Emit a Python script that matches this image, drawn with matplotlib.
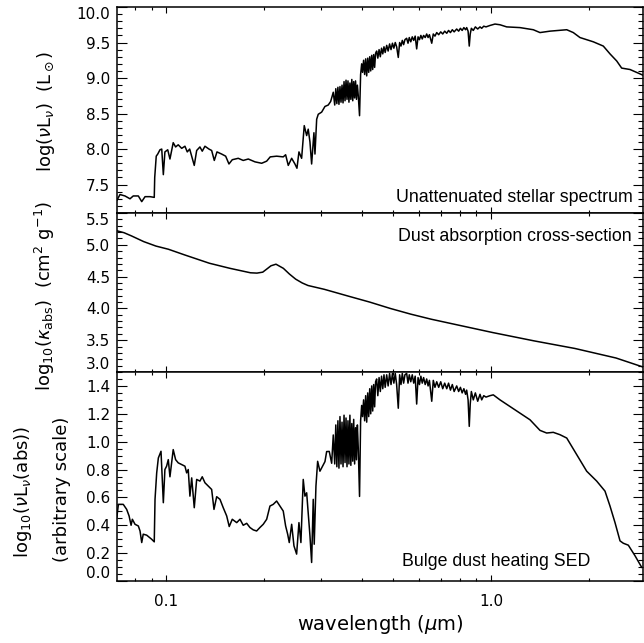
import matplotlib
matplotlib.use("Agg")
import matplotlib.pyplot as plt
from matplotlib.ticker import FixedLocator, MultipleLocator, NullFormatter, FixedFormatter, FormatStrFormatter

plt.rcParams['font.family'] = ['DejaVu Sans']
plt.rcParams['mathtext.fontset'] = 'dejavusans'

# ---------------- data ----------------
# Panel 1: unattenuated stellar spectrum, log(nu L_nu) [L_sun]
wl_star = [
    0.0704, 0.0719, 0.0745, 0.0772, 0.0790, 0.0819, 0.0839, 0.0859, 0.0890, 0.0917,
    0.0920, 0.0930, 0.0940, 0.0955, 0.0967, 0.0978, 0.0989, 0.1009, 0.1025, 0.1049,
    0.1067, 0.1087, 0.1114, 0.1140, 0.1159, 0.1179, 0.1201, 0.1218, 0.1239, 0.1268,
    0.1289, 0.1314, 0.1352, 0.1378, 0.1404, 0.1431, 0.1479, 0.1522, 0.1558, 0.1595,
    0.1664, 0.1724, 0.1787, 0.1874, 0.1965, 0.2036, 0.2088, 0.2185, 0.2290, 0.2329,
    0.2373, 0.2431, 0.2488, 0.2524, 0.2560, 0.2609, 0.2658, 0.2704, 0.2734, 0.2768,
    0.2801, 0.2847, 0.2868, 0.2903, 0.2936, 0.3007, 0.3079, 0.3151, 0.3206, 0.3266,
    0.3300, 0.3325, 0.3350, 0.3375, 0.3400, 0.3425, 0.3450, 0.3475, 0.3500, 0.3525,
    0.3550, 0.3575, 0.3600, 0.3625, 0.3650, 0.3675, 0.3700, 0.3725, 0.3750, 0.3775,
    0.3800, 0.3825, 0.3850, 0.3875, 0.3900, 0.3935, 0.3965, 0.3995, 0.4020, 0.4050,
    0.4080, 0.4110, 0.4140, 0.4170, 0.4200, 0.4230, 0.4260, 0.4290, 0.4320, 0.4350,
    0.4380, 0.4410, 0.4443, 0.4480, 0.4520, 0.4560, 0.4600, 0.4640, 0.4680, 0.4720,
    0.4771, 0.4820, 0.4870, 0.4920, 0.4970, 0.5020, 0.5070, 0.5120, 0.5180, 0.5230,
    0.5280, 0.5330, 0.5380, 0.5430, 0.5497, 0.5550, 0.5600, 0.5660, 0.5720, 0.5780,
    0.5840, 0.5902, 0.5960, 0.6020, 0.6080, 0.6140, 0.6200, 0.6270, 0.6336, 0.6400,
    0.6460, 0.6568, 0.6640, 0.6720, 0.6804, 0.6900, 0.7000, 0.7100, 0.7200, 0.7306,
    0.7400, 0.7500, 0.7600, 0.7700, 0.7840, 0.7950, 0.8050, 0.8150, 0.8250, 0.8350,
    0.8415, 0.8500, 0.8571, 0.8630, 0.8700, 0.8820, 0.8950, 0.9100, 0.9250, 0.9362,
    0.9500, 0.9650, 0.9929, 1.0288, 1.0659, 1.1177, 1.2284, 1.3500, 1.4158, 1.5197,
    1.7116, 1.7931, 1.8802, 2.0667, 2.2186, 2.3265, 2.4402, 2.5273, 2.6817, 2.9400,
]
log_star = [
    7.28, 7.36, 7.34, 7.30, 7.34, 7.34, 7.26, 7.33, 7.33, 7.32,
    7.60, 7.90, 7.93, 7.99, 8.00, 7.64, 7.96, 7.99, 7.86, 8.09,
    8.03, 8.06, 8.01, 8.04, 7.96, 8.00, 7.87, 7.77, 7.98, 8.03,
    7.97, 8.04, 8.00, 7.98, 7.84, 7.96, 7.93, 7.90, 7.79, 7.85,
    7.87, 7.84, 7.86, 7.82, 7.80, 7.83, 7.89, 7.90, 7.89, 7.92,
    7.77, 7.87, 7.79, 7.73, 7.96, 7.87, 8.33, 8.19, 8.28, 8.10,
    7.79, 8.23, 7.93, 8.42, 8.49, 8.52, 8.60, 8.62, 8.67, 8.80,
    8.62, 8.85, 8.64, 8.87, 8.63, 8.88, 8.66, 8.90, 8.65, 8.95,
    8.68, 8.97, 8.70, 8.96, 8.66, 8.93, 8.70, 8.98, 8.68, 8.95,
    8.72, 8.96, 8.70, 8.90, 8.75, 8.47, 9.05, 9.20, 9.08, 9.25,
    9.05, 9.27, 9.03, 9.28, 9.08, 9.30, 9.10, 9.32, 9.12, 9.33,
    9.15, 9.35, 9.38, 9.28, 9.40, 9.30, 9.42, 9.34, 9.44, 9.36,
    9.46, 9.38, 9.48, 9.40, 9.49, 9.42, 9.50, 9.44, 9.29, 9.50,
    9.45, 9.53, 9.47, 9.54, 9.56, 9.49, 9.57, 9.51, 9.58, 9.53,
    9.59, 9.41, 9.58, 9.54, 9.60, 9.55, 9.60, 9.57, 9.62, 9.57,
    9.61, 9.49, 9.62, 9.59, 9.64, 9.61, 9.65, 9.62, 9.66, 9.63,
    9.67, 9.64, 9.68, 9.65, 9.69, 9.66, 9.70, 9.67, 9.71, 9.68,
    9.71, 9.66, 9.45, 9.62, 9.70, 9.67, 9.72, 9.69, 9.72, 9.70,
    9.73, 9.72, 9.74, 9.76, 9.75, 9.72, 9.71, 9.68, 9.64, 9.66,
    9.68, 9.64, 9.57, 9.51, 9.45, 9.34, 9.24, 9.14, 9.12, 9.04,
]

# Panel 2: dust absorption cross-section, log10(kappa_abs) [cm^2 g^-1]
wl_kappa = [
    0.0704, 0.0740, 0.0780, 0.0851, 0.0928, 0.1014, 0.1139, 0.1356, 0.1569, 0.1815,
    0.1900, 0.1980, 0.2039, 0.2099, 0.2175, 0.2292, 0.2393, 0.2501, 0.2620, 0.2730,
    0.3065, 0.3651, 0.4225, 0.4889, 0.5656, 0.6543, 0.7567, 1.0129, 1.3557, 1.8135,
    2.4281, 2.9345,
]
log_kappa = [
    5.22, 5.19, 5.14, 5.05, 4.98, 4.93, 4.84, 4.71, 4.63, 4.56,
    4.555, 4.57, 4.62, 4.67, 4.695, 4.63, 4.54, 4.46, 4.40, 4.36,
    4.30, 4.19, 4.10, 4.00, 3.91, 3.83, 3.76, 3.62, 3.49, 3.37,
    3.22, 3.08,
]

# Panel 3: bulge dust heating SED, log10(nu L_nu(abs)) (arbitrary scale)
wl_bulge = [
    0.0703, 0.0711, 0.0736, 0.0754, 0.0767, 0.0778, 0.0785, 0.0800, 0.0819, 0.0829,
    0.0839, 0.0848, 0.0869, 0.0900, 0.0917, 0.0922, 0.0933, 0.0944, 0.0962, 0.0978,
    0.0989, 0.1001, 0.1013, 0.1025, 0.1049, 0.1067, 0.1087, 0.1114, 0.1140, 0.1154,
    0.1167, 0.1181, 0.1196, 0.1218, 0.1239, 0.1268, 0.1289, 0.1314, 0.1345, 0.1378,
    0.1401, 0.1428, 0.1462, 0.1496, 0.1533, 0.1561, 0.1595, 0.1646, 0.1685, 0.1724,
    0.1767, 0.1808, 0.1851, 0.1896, 0.1941, 0.1987, 0.2036, 0.2084, 0.2133, 0.2185,
    0.2237, 0.2290, 0.2329, 0.2363, 0.2390, 0.2431, 0.2471, 0.2518, 0.2560, 0.2596,
    0.2639, 0.2671, 0.2704, 0.2734, 0.2768, 0.2801, 0.2833, 0.2853, 0.2888, 0.2923,
    0.2971, 0.3079, 0.3116, 0.3174, 0.3229, 0.3266, 0.3300, 0.3325, 0.3350, 0.3375,
    0.3400, 0.3425, 0.3450, 0.3475, 0.3500, 0.3525, 0.3550, 0.3575, 0.3600, 0.3625,
    0.3650, 0.3675, 0.3700, 0.3725, 0.3750, 0.3775, 0.3800, 0.3825, 0.3850, 0.3875,
    0.3900, 0.3935, 0.3965, 0.3995, 0.4020, 0.4050, 0.4080, 0.4110, 0.4140, 0.4170,
    0.4200, 0.4230, 0.4260, 0.4290, 0.4320, 0.4350, 0.4380, 0.4410, 0.4443, 0.4480,
    0.4520, 0.4560, 0.4600, 0.4640, 0.4680, 0.4720, 0.4771, 0.4820, 0.4870, 0.4920,
    0.4970, 0.5020, 0.5070, 0.5120, 0.5180, 0.5230, 0.5280, 0.5330, 0.5380, 0.5430,
    0.5497, 0.5550, 0.5600, 0.5660, 0.5720, 0.5780, 0.5840, 0.5902, 0.5960, 0.6020,
    0.6080, 0.6140, 0.6200, 0.6270, 0.6336, 0.6400, 0.6460, 0.6568, 0.6640, 0.6720,
    0.6804, 0.6900, 0.7000, 0.7100, 0.7200, 0.7306, 0.7400, 0.7500, 0.7600, 0.7700,
    0.7840, 0.7950, 0.8050, 0.8150, 0.8250, 0.8350, 0.8415, 0.8500, 0.8571, 0.8630,
    0.8700, 0.8820, 0.8950, 0.9100, 0.9250, 0.9362, 0.9500, 0.9650, 0.9929, 1.0165,
    1.0659, 1.1444, 1.2284, 1.3190, 1.4158, 1.4845, 1.5557, 1.6316, 1.7116, 1.8367,
    1.9719, 2.1170, 2.2455, 2.3265, 2.4109, 2.4980, 2.5571, 2.6496, 2.7787, 2.9133,
]
log_bulge = [
    0.455, 0.550, 0.550, 0.514, 0.467, 0.400, 0.443, 0.407, 0.395, 0.359,
    0.276, 0.336, 0.329, 0.300, 0.281, 0.586, 0.776, 0.883, 0.931, 0.562,
    0.800, 0.824, 0.871, 0.748, 0.943, 0.871, 0.848, 0.836, 0.824, 0.776,
    0.800, 0.609, 0.740, 0.526, 0.729, 0.717, 0.748, 0.705, 0.681, 0.657,
    0.514, 0.605, 0.586, 0.526, 0.467, 0.391, 0.443, 0.419, 0.443, 0.400,
    0.414, 0.384, 0.367, 0.359, 0.384, 0.407, 0.443, 0.538, 0.550, 0.574,
    0.538, 0.502, 0.395, 0.336, 0.276, 0.407, 0.252, 0.193, 0.419, 0.276,
    0.729, 0.609, 0.633, 0.491, 0.324, 0.133, 0.586, 0.264, 0.681, 0.859,
    0.788, 0.857, 0.929, 0.930, 0.845, 1.048, 0.840, 1.120, 0.820, 1.150,
    0.810, 1.180, 0.840, 1.140, 0.820, 1.190, 0.850, 1.170, 0.820, 1.150,
    0.840, 1.190, 0.830, 1.130, 0.860, 1.160, 0.840, 1.100, 0.870, 1.120,
    0.950, 0.607, 1.150, 1.260, 1.180, 1.300, 1.150, 1.330, 1.140, 1.350,
    1.180, 1.380, 1.200, 1.400, 1.220, 1.410, 1.250, 1.430, 1.450, 1.330,
    1.460, 1.360, 1.470, 1.380, 1.480, 1.390, 1.480, 1.400, 1.490, 1.410,
    1.490, 1.420, 1.490, 1.410, 1.240, 1.480, 1.410, 1.490, 1.420, 1.480,
    1.490, 1.420, 1.480, 1.430, 1.480, 1.420, 1.470, 1.270, 1.460, 1.410,
    1.470, 1.420, 1.460, 1.410, 1.450, 1.400, 1.440, 1.290, 1.440, 1.390,
    1.430, 1.390, 1.430, 1.380, 1.420, 1.380, 1.420, 1.370, 1.410, 1.360,
    1.400, 1.360, 1.390, 1.350, 1.380, 1.340, 1.370, 1.300, 1.110, 1.270,
    1.360, 1.300, 1.350, 1.290, 1.340, 1.300, 1.330, 1.320, 1.330, 1.336,
    1.300, 1.252, 1.205, 1.157, 1.081, 1.062, 1.067, 1.050, 1.026, 0.907,
    0.788, 0.717, 0.645, 0.538, 0.419, 0.288, 0.271, 0.257, 0.181, 0.098,
]

x_major = [0.1, 1.0]
x_major_labels = ['0.1', '1.0']
x_minor = [0.08, 0.09, 0.2, 0.3, 0.4, 0.5, 0.6, 0.7, 0.8, 0.9, 2.0, 3.0]
y1_major = [7.5, 8.0, 8.5, 9.0, 9.5, 10.0]
y2_major = [3.0, 3.5, 4.0, 4.5, 5.0, 5.5]
y3_major = [0.0, 0.2, 0.4, 0.6, 0.8, 1.0, 1.2, 1.4]

labels = ['Unattenuated stellar spectrum', 'Dust absorption cross-section',
          'Bulge dust heating SED']

# ---------------- figure ----------------
fig = plt.figure(figsize=(6.44, 6.43), dpi=100)
L = 117 / 644
W = 525.5 / 644
ax1 = fig.add_axes([L, 1 - 213 / 643, W, 206 / 643])
ax2 = fig.add_axes([L, 1 - 372 / 643, W, 159 / 643])
ax3 = fig.add_axes([L, 1 - 581 / 643, W, 209 / 643])

ax1.plot(wl_star, log_star, color='black', lw=1.1)
ax2.plot(wl_kappa, log_kappa, color='black', lw=1.1)
ax3.plot(wl_bulge, log_bulge, color='black', lw=1.1)

for ax in (ax1, ax2, ax3):
    ax.set_xscale('log')
    ax.set_xlim(0.0704, 2.93)
    ax.xaxis.set_major_locator(FixedLocator(x_major))
    ax.xaxis.set_major_formatter(FixedFormatter(x_major_labels))
    ax.xaxis.set_minor_locator(FixedLocator(x_minor))
    ax.xaxis.set_minor_formatter(NullFormatter())
    ax.tick_params(which='both', direction='in', top=True, right=True, width=0.8)
    ax.tick_params(axis='y', which='major', length=7.2, labelsize=11, pad=5)
    ax.tick_params(axis='y', which='minor', length=3.6)
    ax.tick_params(axis='x', which='major', length=4.3, labelsize=11, pad=9)
    ax.tick_params(axis='x', which='minor', length=2.5)
    for s in ax.spines.values():
        s.set_linewidth(1.1)

ax1.tick_params(axis='x', which='both', labelbottom=False)
ax2.tick_params(axis='x', which='both', labelbottom=False)

ax1.set_ylim(7.1, 10.0)
ax1.yaxis.set_major_locator(FixedLocator(y1_major))
ax1.yaxis.set_minor_locator(MultipleLocator(0.1))
ax1.yaxis.set_major_formatter(FormatStrFormatter('%.1f'))

ax2.set_ylim(3.0, 5.5)
ax2.yaxis.set_major_locator(FixedLocator(y2_major))
ax2.yaxis.set_minor_locator(MultipleLocator(0.1))
ax2.yaxis.set_major_formatter(FormatStrFormatter('%.1f'))

ax3.set_ylim(0.0, 1.5)
ax3.yaxis.set_major_locator(FixedLocator(y3_major))
ax3.yaxis.set_minor_locator(MultipleLocator(0.05))
ax3.yaxis.set_major_formatter(FormatStrFormatter('%.1f'))

# edge labels shifted inside the panel
ax1.yaxis.get_major_ticks()[-1].label1.set_va('top')
ax2.yaxis.get_major_ticks()[-1].label1.set_va('top')
ax2.yaxis.get_major_ticks()[0].label1.set_va('bottom')
ax3.yaxis.get_major_ticks()[0].label1.set_va('bottom')

ann = dict(fontsize=12.8, family=['Liberation Sans', 'DejaVu Sans'], va='baseline', ha='right')
ax1.text(0.981, 0.055, labels[0], transform=ax1.transAxes, **ann)
ax2.text(0.979, 0.824, labels[1], transform=ax2.transAxes, **ann)
ax3.text(0.901, 0.072, labels[2], transform=ax3.transAxes, **ann)

ylab = dict(rotation=90, ha='center', va='center', fontsize=13)
fig.text(46 / 644, 1 - 111 / 643, r'log($\nu$L$_\nu$)  (L$_\odot$)', **ylab)
fig.text(45 / 644, 1 - 296 / 643, r'log$_{10}$($\kappa_{\rm abs}$)  (cm$^2$ g$^{-1}$)', **ylab)
fig.text(23 / 644, 1 - 492 / 643, r'log$_{10}$($\nu$L$_\nu$(abs))', **ylab)
fig.text(62 / 644, 1 - 489 / 643, '(arbitrary scale)', **ylab)
fig.text(380 / 644, 1 - 625 / 643, r'wavelength ($\mu$m)', ha='center', va='center', fontsize=14)

fig.savefig('out.png', dpi=100)
